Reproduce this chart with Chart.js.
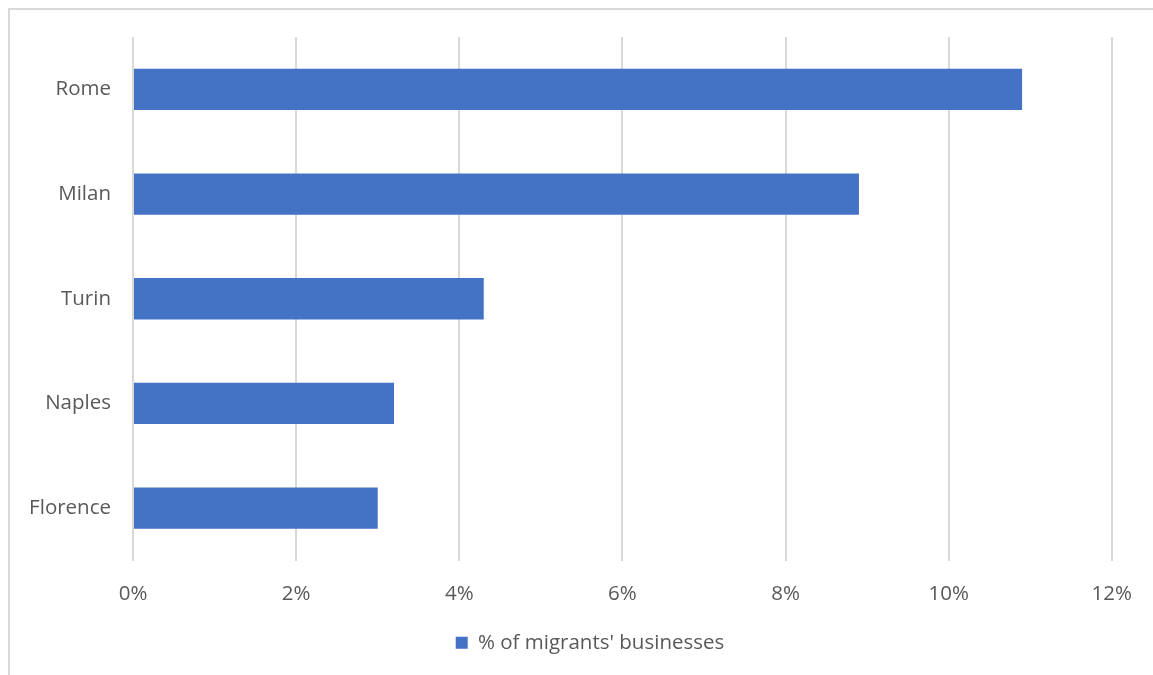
<!DOCTYPE html>
<html>
<head>
<meta charset="utf-8">
<script src="https://cdn.jsdelivr.net/npm/chart.js@4.4.0/dist/chart.umd.min.js"></script>
<style>
  html, body { margin: 0; padding: 0; background: #fff; overflow: hidden; }
  #frame { position: absolute; left: 8px; top: 8px; width: 1200px; height: 700px; border: 2px solid #d9d9d9; box-sizing: border-box; }
  #wrap { position: absolute; left: 0; top: 0; width: 1153px; height: 675px; }
</style>
</head>
<body>
<div id="frame"></div>
<div id="wrap"><canvas id="grafico" width="1153" height="675"></canvas></div>
<script>
// Datos
const ciudades = ["Rome", "Milan", "Turin", "Naples", "Florence"];
const porcentajes = [10.9, 8.9, 4.3, 3.2, 3.0];
const ticksX = [0, 2, 4, 6, 8, 10, 12];

const gris = "#595959";
const fuente = { family: "'Open Sans', 'Liberation Sans', sans-serif", size: 20.5 };

const ctx = document.getElementById("grafico").getContext("2d");

// centrar la leyenda sobre el área del gráfico, como en Excel
const moverLeyenda = {
  id: "moverLeyenda",
  afterLayout(chart) {
    chart.legend.left += 34;
    chart.legend.right += 34;
  }
};

new Chart(ctx, {
  type: "bar",
  data: {
    labels: ciudades,
    datasets: [{
      label: "% of migrants' businesses",
      data: porcentajes,
      backgroundColor: "#4472c4",
      borderWidth: 0,
      barPercentage: 0.4,
      categoryPercentage: 0.985
    }]
  },
  options: {
    indexAxis: "y",
    responsive: false,
    animation: false,
    layout: { padding: { left: 0, right: 41, top: 37, bottom: 12 } },
    scales: {
      x: {
        min: 0,
        max: 12,
        afterBuildTicks: (axis) => { axis.ticks = ticksX.map(v => ({ value: v })); },
        ticks: {
          color: gris,
          font: fuente,
          padding: 21,
          callback: (v) => v + "%"
        },
        grid: { color: "#d9d9d9", lineWidth: 2, drawTicks: false },
        border: { display: false },
        afterFit: (axis) => { axis.height = 62; }
      },
      y: {
        ticks: { color: gris, font: fuente, padding: 22 },
        grid: { display: false, drawTicks: false },
        border: { display: false },
        afterFit: (axis) => { axis.width = 133; }
      }
    },
    plugins: {
      legend: {
        display: true,
        position: "bottom",
        labels: {
          color: gris,
          font: fuente,
          boxWidth: 12,
          boxHeight: 12,
          padding: 10
        }
      },
      tooltip: { enabled: false }
    }
  },
  plugins: [moverLeyenda]
});
</script>
</body>
</html>
